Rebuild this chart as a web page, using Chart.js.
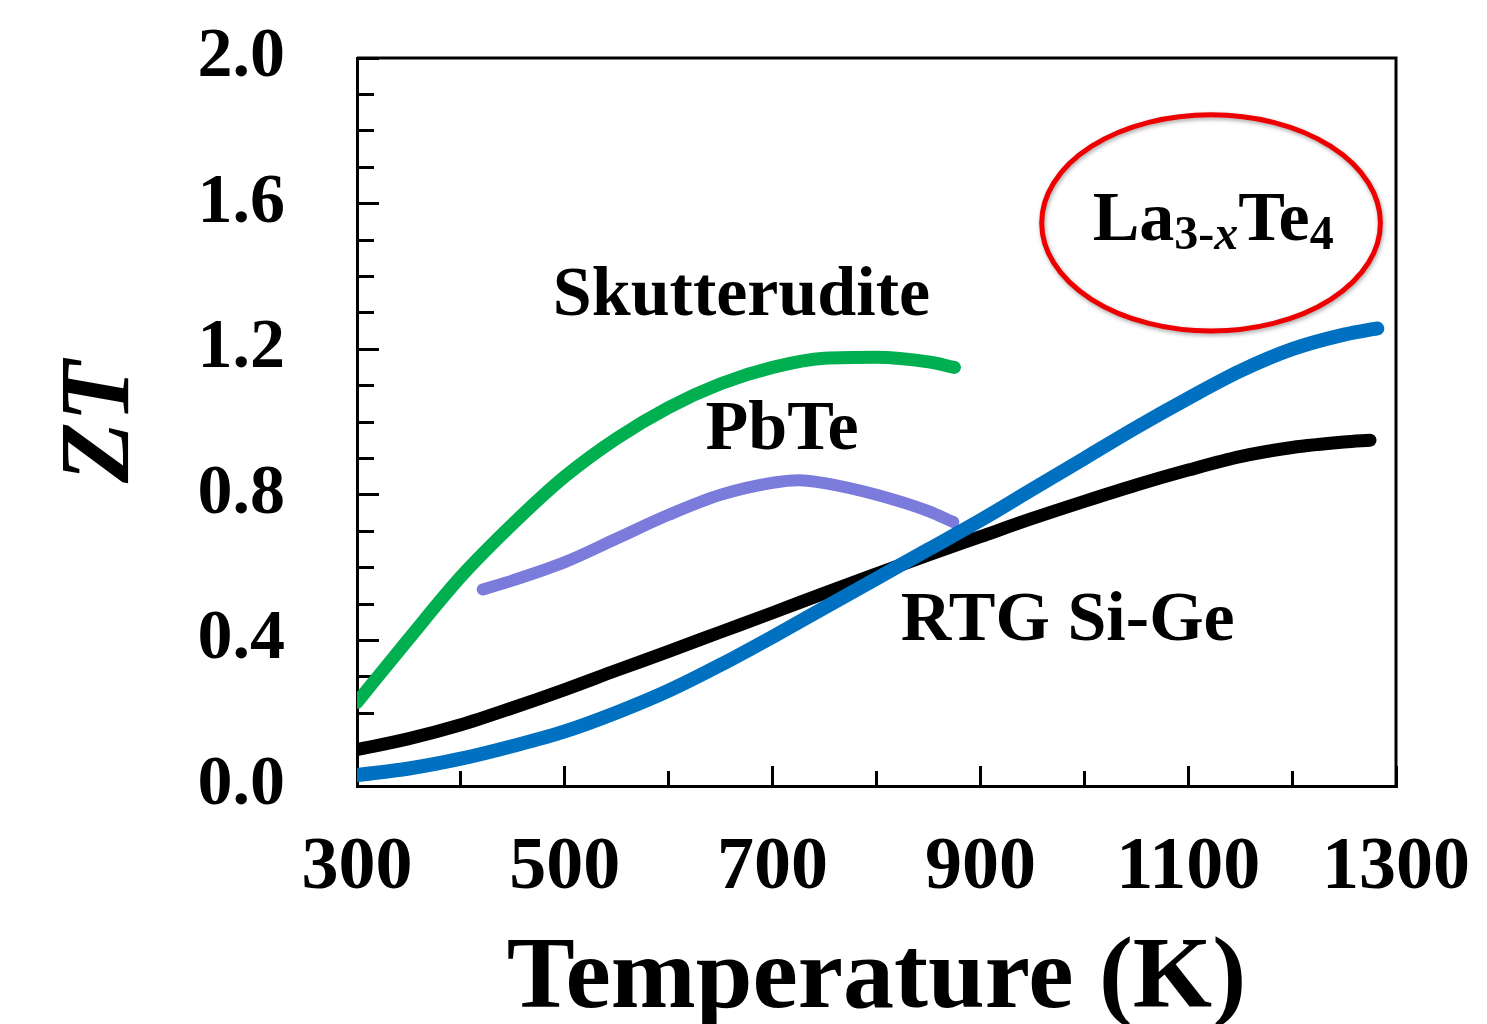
<!DOCTYPE html>
<html>
<head>
<meta charset="utf-8">
<script src="https://cdn.jsdelivr.net/npm/chart.js@4.4.0/dist/chart.umd.min.js"></script>
<style>
  html, body { margin: 0; padding: 0; background: #ffffff; }
</style>
</head>
<body>
<canvas id="ztChart" width="1487" height="1024"></canvas>
<script>
// Werte: Temperatur (K) und ZT
const skutT  = [300, 350, 400, 450, 500, 550, 600, 650, 700, 750, 800, 850, 875];
const skutZT = [0.23, 0.405, 0.575, 0.72, 0.85, 0.955, 1.04, 1.105, 1.15, 1.175, 1.178, 1.165, 1.15];

const pbteT  = [421, 450, 500, 550, 600, 650, 700, 725, 750, 800, 850, 874];
const pbteZT = [0.54, 0.565, 0.615, 0.68, 0.745, 0.80, 0.833, 0.84, 0.832, 0.80, 0.755, 0.725];

const sigeT  = [300, 350, 400, 450, 500, 550, 600, 650, 700, 750, 800, 850, 900, 950, 1000, 1050, 1100, 1150, 1200, 1250, 1275];
const sigeZT = [0.10, 0.13, 0.168, 0.215, 0.265, 0.318, 0.37, 0.423, 0.476, 0.53, 0.583, 0.635, 0.685, 0.735, 0.782, 0.827, 0.868, 0.905, 0.93, 0.945, 0.95];

const laTeT  = [300, 350, 400, 450, 500, 550, 600, 650, 700, 750, 800, 850, 900, 950, 1000, 1050, 1100, 1150, 1200, 1250, 1282];
const laTeZT = [0.03, 0.048, 0.075, 0.11, 0.15, 0.202, 0.262, 0.333, 0.41, 0.49, 0.57, 0.65, 0.73, 0.815, 0.90, 0.985, 1.065, 1.14, 1.20, 1.24, 1.257];

const xTickLabels = ['300', '500', '700', '900', '1100', '1300'];
const yTickLabels = ['0.0', '0.4', '0.8', '1.2', '1.6', '2.0'];

const SERIF = "'Liberation Serif', 'Times New Roman', serif";

const toPoints = (xs, ys) => xs.map((t, i) => ({ x: t, y: ys[i] }));

// Beschriftungen im Diagramm (Datenkoordinaten)
const curveLabels = [
    { text: 'Skutterudite', x: 670, y: 1.294 },
    { text: 'PbTe', x: 709, y: 0.926 },
    { text: 'RTG Si-Ge', x: 984, y: 0.401 }
];
const laLabel = { x: 1124, y: 1.50, cx: 1122, cy: 1.547, rx: 163, ry: 0.297 };

const annotationPlugin = {
    id: 'annotations',
    afterDraw(chart) {
        const { ctx, chartArea, scales } = chart;
        const xs = scales.x, ys = scales.y;

        // Rahmen oben und rechts
        ctx.save();
        ctx.strokeStyle = '#000';
        ctx.lineWidth = 3;
        ctx.beginPath();
        ctx.moveTo(chartArea.left, chartArea.top);
        ctx.lineTo(chartArea.right, chartArea.top);
        ctx.lineTo(chartArea.right, chartArea.bottom);
        ctx.stroke();

        ctx.fillStyle = '#000';
        ctx.textAlign = 'center';
        ctx.textBaseline = 'alphabetic';
        ctx.font = `bold 70px ${SERIF}`;
        curveLabels.forEach(l => {
            ctx.fillText(l.text, xs.getPixelForValue(l.x), ys.getPixelForValue(l.y));
        });

        // rote Ellipse
        const ecx = xs.getPixelForValue(laLabel.cx);
        const ecy = ys.getPixelForValue(laLabel.cy);
        const erx = xs.getPixelForValue(laLabel.cx + laLabel.rx) - ecx;
        const ery = ecy - ys.getPixelForValue(laLabel.cy + laLabel.ry);
        ctx.save();
        ctx.shadowColor = 'rgba(0,0,0,0.35)';
        ctx.shadowBlur = 4;
        ctx.shadowOffsetX = 1;
        ctx.shadowOffsetY = 2;
        ctx.strokeStyle = '#ee0000';
        ctx.lineWidth = 5;
        ctx.beginPath();
        ctx.ellipse(ecx, ecy, erx, ery, 0, 0, Math.PI * 2);
        ctx.stroke();
        ctx.restore();

        // La3-xTe4 mit Indizes
        const parts = [
            { t: 'La', f: `bold 70px ${SERIF}`, dy: 0 },
            { t: '3-', f: `bold 48px ${SERIF}`, dy: 9 },
            { t: 'x', f: `italic bold 48px ${SERIF}`, dy: 9 },
            { t: 'Te', f: `bold 70px ${SERIF}`, dy: 0 },
            { t: '4', f: `bold 48px ${SERIF}`, dy: 9 }
        ];
        let total = 0;
        parts.forEach(p => { ctx.font = p.f; p.w = ctx.measureText(p.t).width; total += p.w; });
        let px = xs.getPixelForValue(laLabel.x) - total / 2;
        const base = ys.getPixelForValue(laLabel.y);
        ctx.textAlign = 'left';
        parts.forEach(p => {
            ctx.font = p.f;
            ctx.fillText(p.t, px, base + p.dy);
            px += p.w;
        });
        ctx.restore();
    }
};

const lineStyle = (label, data, color, width) => ({
    label,
    data,
    borderColor: color,
    backgroundColor: color,
    borderWidth: width,
    borderCapStyle: 'round',
    borderJoinStyle: 'round',
    pointRadius: 0,
    cubicInterpolationMode: 'monotone',
    fill: false,
    xAxisID: 'x',
    yAxisID: 'y'
});

// Skalenpadding ausschalten, damit die Plotfläche exakt sitzt
const noPad = (scale) => {
    scale.paddingTop = 0;
    scale.paddingBottom = 0;
    scale.paddingLeft = 0;
    scale.paddingRight = 0;
};

new Chart(document.getElementById('ztChart'), {
    type: 'line',
    data: {
        datasets: [
            lineStyle('La3-xTe4', toPoints(laTeT, laTeZT), '#0070c0', 14),
            lineStyle('PbTe', toPoints(pbteT, pbteZT), '#7b7bdc', 12),
            lineStyle('Skutterudite', toPoints(skutT, skutZT), '#00b050', 13),
            lineStyle('RTG Si-Ge', toPoints(sigeT, sigeZT), '#000000', 13)
        ]
    },
    options: {
        responsive: false,
        devicePixelRatio: 1,
        animation: false,
        layout: { padding: { top: 58, right: 91, left: 0, bottom: 0 } },
        plugins: {
            legend: { display: false },
            tooltip: { enabled: false }
        },
        scales: {
            x: {
                type: 'linear',
                position: 'bottom',
                weight: 1,
                min: 300,
                max: 1300,
                afterBuildTicks: (scale) => {
                    scale.ticks = xTickLabels.map(v => ({ value: Number(v) }));
                },
                ticks: {
                    color: '#000',
                    padding: 58,
                    maxRotation: 0,
                    autoSkip: false,
                    font: { family: SERIF, size: 74, weight: 'bold' },
                    callback: (v) => String(v)
                },
                grid: { drawOnChartArea: false, tickLength: -20, tickWidth: 3, tickColor: '#000' },
                border: { display: true, color: '#000', width: 3 },
                title: {
                    display: true,
                    text: 'Temperature (K)',
                    color: '#000',
                    font: { family: SERIF, size: 102, weight: 'bold', lineHeight: 0.8 },
                    padding: { top: 0, bottom: 3 }
                },
                afterFit: (scale) => { scale.height = 238; noPad(scale); }
            },
            xMinor: {
                type: 'linear',
                position: 'bottom',
                weight: 0,
                min: 300,
                max: 1300,
                ticks: { display: false, stepSize: 100 },
                grid: { drawOnChartArea: false, tickLength: -15, tickWidth: 3, tickColor: '#000' },
                border: { display: false },
                afterFit: (scale) => { scale.height = 0; noPad(scale); }
            },
            y: {
                type: 'linear',
                position: 'left',
                weight: 1,
                min: 0,
                max: 2,
                afterBuildTicks: (scale) => {
                    scale.ticks = yTickLabels.map(v => ({ value: Number(v) }));
                },
                ticks: {
                    color: '#000',
                    padding: 94,
                    autoSkip: false,
                    font: { family: SERIF, size: 70, weight: 'bold' },
                    callback: (v) => Number(v).toFixed(1)
                },
                grid: { drawOnChartArea: false, tickLength: -22, tickWidth: 3, tickColor: '#000' },
                border: { display: true, color: '#000', width: 3 },
                title: {
                    display: true,
                    text: 'ZT',
                    color: '#000',
                    font: { family: SERIF, size: 100, weight: 'bold', style: 'italic' },
                    padding: { top: 42, bottom: 0 }
                },
                afterFit: (scale) => { scale.width = 357; noPad(scale); }
            },
            yMinor: {
                type: 'linear',
                position: 'left',
                weight: 0,
                min: 0,
                max: 2,
                ticks: { display: false, stepSize: 0.1 },
                grid: { drawOnChartArea: false, tickLength: -17, tickWidth: 3, tickColor: '#000' },
                border: { display: false },
                afterFit: (scale) => { scale.width = 0; noPad(scale); }
            }
        }
    },
    plugins: [annotationPlugin]
});
</script>
</body>
</html>
